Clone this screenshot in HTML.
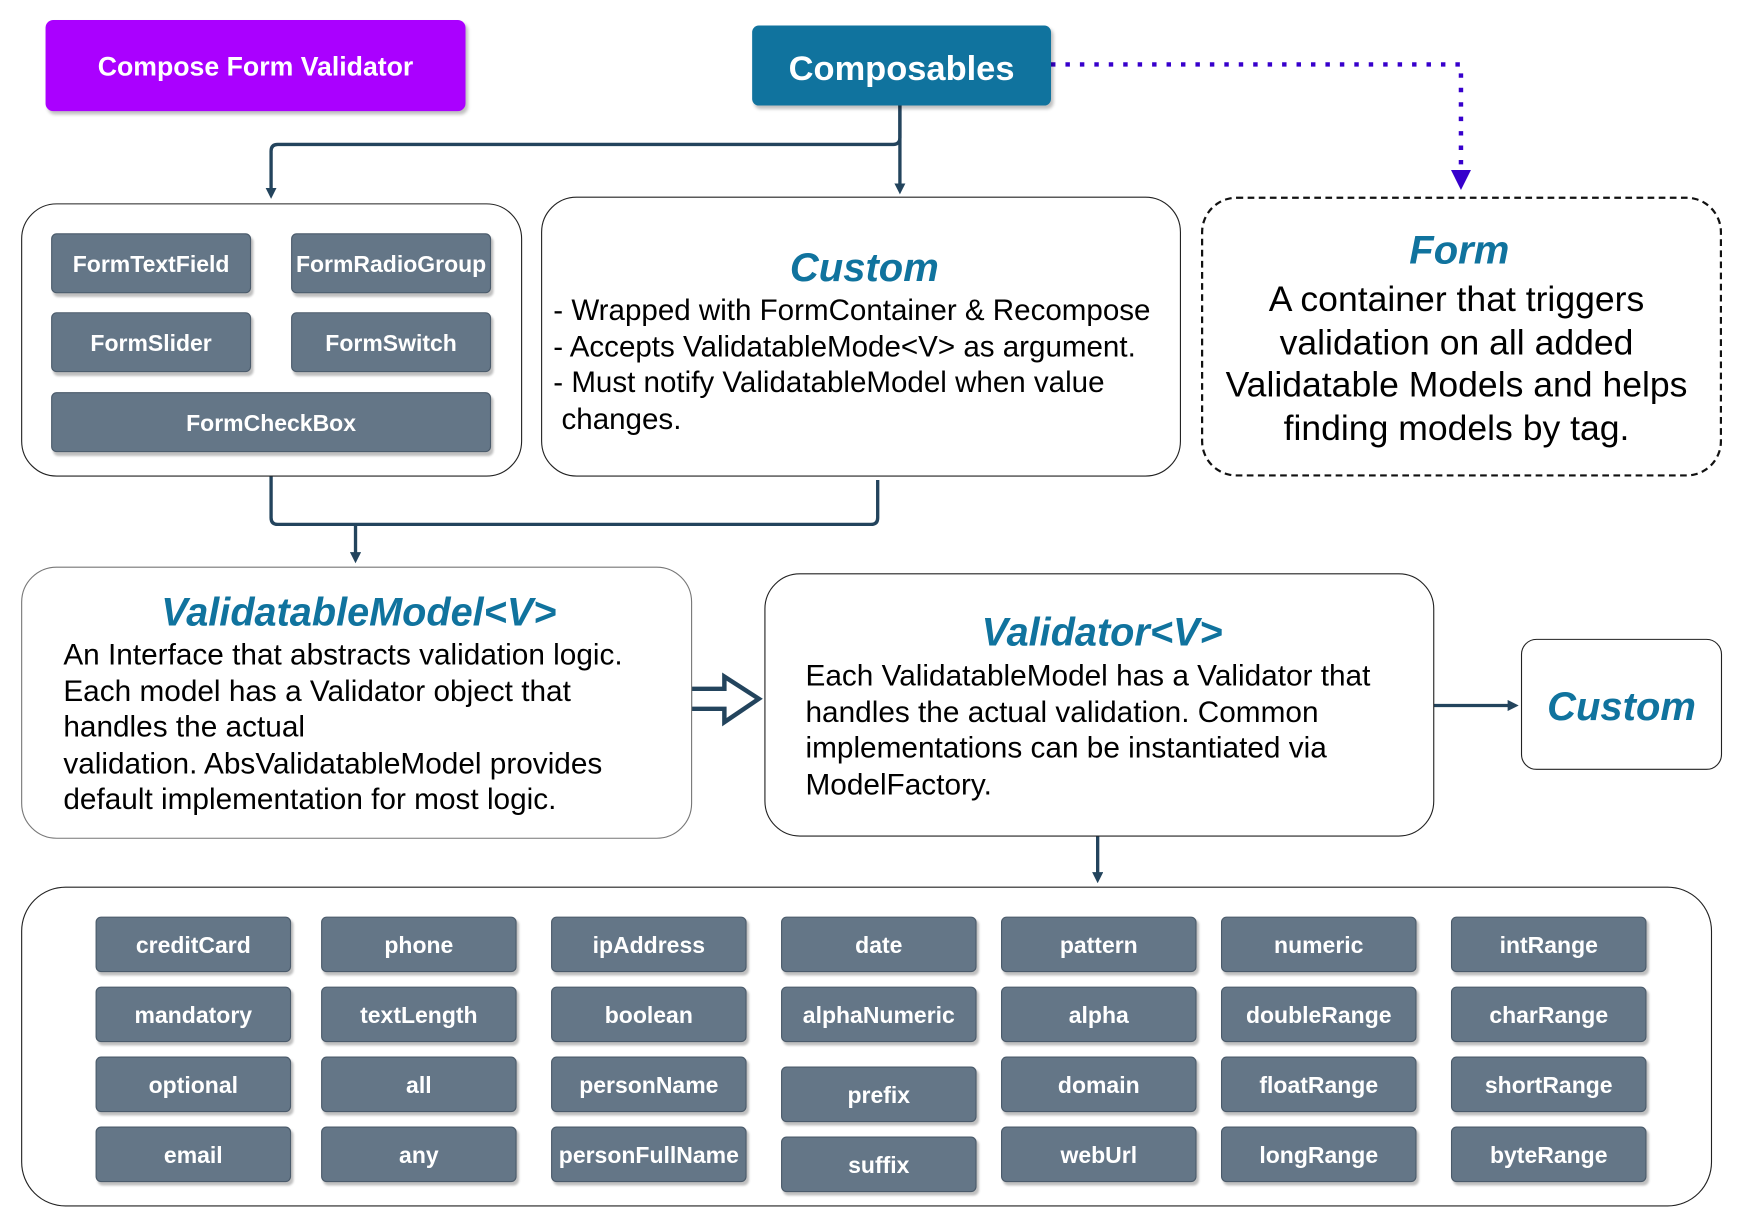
<!DOCTYPE html>
<html><head><meta charset="utf-8"><style>
body{margin:0;width:1742px;height:1226px;overflow:hidden;background:#fff;font-family:"Liberation Sans",Arial,sans-serif}
#w{position:absolute;left:0;top:0;width:1560px;height:1098px;transform:scale(1.111);transform-origin:0 0}
.a{position:absolute;box-sizing:border-box}
.btn{position:absolute;box-sizing:border-box;background:#647687;border:1px solid #4a5a6a;border-radius:5px;color:#fff;font-weight:bold;font-size:20.7px;display:flex;align-items:center;justify-content:center;box-shadow:2px 3px 2px rgba(0,0,0,.25);white-space:nowrap;padding-top:4px}
.box{position:absolute;box-sizing:border-box;border:1.5px solid #222;border-radius:32px;background:#fff}
.t{color:#10739e;font-weight:bold;font-style:italic}
</style></head><body><div id="w">
<svg class="a" style="left:0;top:0" width="1560" height="1098">
<defs><marker id="m" markerWidth="10" markerHeight="10" refX="5" refY="5" orient="auto" markerUnits="userSpaceOnUse"><path d="M0,0 L10,5 L0,10 z" fill="#23445d"/></marker>
<marker id="p" markerWidth="18" markerHeight="18" refX="9" refY="9" orient="auto" markerUnits="userSpaceOnUse"><path d="M0,0 L18,9 L0,18 z" fill="#3700cc"/></marker></defs>
<g stroke="#23445d" stroke-width="3" fill="none">
<path d="M810,95 V124 Q810,130 804,130 H250 Q244,130 244,136 V174" marker-end="url(#m)"/>
<path d="M810,95 V170" marker-end="url(#m)"/>
<path d="M244,428 V466 Q244,472 250,472 H784 Q790,472 790,466 V432"/>
<path d="M320,472 V502" marker-end="url(#m)"/>
<path d="M1290,635 H1362" marker-end="url(#m)"/>
<path d="M988,752 V790" marker-end="url(#m)"/>
<path d="M621,620 H652 V609 L683,629 L652,650 V638 H621 Z" stroke-width="4"/>
</g>
<path d="M946,58 H1315 V162" stroke="#3700cc" stroke-width="4" stroke-dasharray="4,9" fill="none" marker-end="url(#p)"/>
</svg>
<div class="a" style="left:41px;top:18px;width:378px;height:82px;background:#aa00ff;border-radius:7px;box-shadow:2px 3px 3px rgba(0,0,0,.25);color:#fff;font-weight:bold;font-size:24px;display:flex;align-items:center;justify-content:center;padding-top:4px">Compose Form Validator</div>
<div class="a" style="left:677px;top:23px;width:269px;height:72px;background:#10739e;border-radius:6px;box-shadow:2px 3px 3px rgba(0,0,0,.25);color:#fff;font-weight:bold;font-size:31px;display:flex;align-items:center;justify-content:center;padding-top:6px">Composables</div>

<div class="box" style="left:19px;top:183px;width:451px;height:246px"></div>
<div class="btn" style="left:46px;top:210px;width:180px;height:54px">FormTextField</div>
<div class="btn" style="left:262px;top:210px;width:180px;height:54px">FormRadioGroup</div>
<div class="btn" style="left:46px;top:281px;width:180px;height:54px">FormSlider</div>
<div class="btn" style="left:262px;top:281px;width:180px;height:54px">FormSwitch</div>
<div class="btn" style="left:46px;top:353px;width:396px;height:54px">FormCheckBox</div>

<div class="box" style="left:487px;top:177px;width:576px;height:252px"></div>
<div class="a t" style="left:487px;top:220px;width:582px;text-align:center;font-size:36px">Custom</div>
<div class="a" style="left:498px;top:263px;font-size:26.6px;line-height:32.5px;color:#000;white-space:nowrap">- Wrapped with FormContainer &amp; Recompose<br>- Accepts ValidatableMode&lt;V&gt; as argument.<br>- Must notify ValidatableModel when value<br>&nbsp;changes.</div>

<div class="a" style="left:1081px;top:177px;width:469px;height:252px;border:2.5px dashed #111;border-radius:32px"></div>
<div class="a t" style="left:1081px;top:204px;width:465px;text-align:center;font-size:36px">Form</div>
<div class="a" style="left:1071px;top:250px;width:480px;text-align:center;font-size:32px;line-height:38.5px;white-space:nowrap">A container that triggers<br>validation on all added<br>Validatable Models and helps<br>finding models by tag.</div>

<div class="box" style="left:19px;top:510px;width:604px;height:245px;border-color:#777"></div>
<div class="a t" style="left:19px;top:531px;width:608px;text-align:center;font-size:35.7px">ValidatableModel&lt;V&gt;</div>
<div class="a" style="left:57px;top:573px;font-size:26.8px;line-height:32.5px;white-space:nowrap">An Interface that abstracts validation logic.<br>Each model has a Validator object that<br>handles the actual<br>validation. AbsValidatableModel provides<br>default implementation for most logic.</div>

<div class="box" style="left:688px;top:516px;width:603px;height:237px"></div>
<div class="a t" style="left:688px;top:549px;width:608px;text-align:center;font-size:35.7px">Validator&lt;V&gt;</div>
<div class="a" style="left:725px;top:592px;font-size:26.8px;line-height:32.5px;white-space:nowrap">Each ValidatableModel has a Validator that<br>handles the actual validation. Common<br>implementations can be instantiated via<br>ModelFactory.</div>

<div class="a" style="left:1369px;top:575px;width:181px;height:118px;border:1.5px solid #222;border-radius:14px;display:flex;align-items:center;justify-content:center;font-size:36px;padding-top:4px" ><span class="t">Custom</span></div>

<div class="box" style="left:19px;top:798px;width:1522px;height:288px;border-radius:40px"></div>
<div class="btn" style="left:86px;top:825px;width:176px;height:50px">creditCard</div>
<div class="btn" style="left:86px;top:888px;width:176px;height:50px">mandatory</div>
<div class="btn" style="left:86px;top:951px;width:176px;height:50px">optional</div>
<div class="btn" style="left:86px;top:1014px;width:176px;height:50px">email</div>
<div class="btn" style="left:289px;top:825px;width:176px;height:50px">phone</div>
<div class="btn" style="left:289px;top:888px;width:176px;height:50px">textLength</div>
<div class="btn" style="left:289px;top:951px;width:176px;height:50px">all</div>
<div class="btn" style="left:289px;top:1014px;width:176px;height:50px">any</div>
<div class="btn" style="left:496px;top:825px;width:176px;height:50px">ipAddress</div>
<div class="btn" style="left:496px;top:888px;width:176px;height:50px">boolean</div>
<div class="btn" style="left:496px;top:951px;width:176px;height:50px">personName</div>
<div class="btn" style="left:496px;top:1014px;width:176px;height:50px">personFullName</div>
<div class="btn" style="left:703px;top:825px;width:176px;height:50px">date</div>
<div class="btn" style="left:703px;top:888px;width:176px;height:50px">alphaNumeric</div>
<div class="btn" style="left:703px;top:960px;width:176px;height:50px">prefix</div>
<div class="btn" style="left:703px;top:1023px;width:176px;height:50px">suffix</div>
<div class="btn" style="left:901px;top:825px;width:176px;height:50px">pattern</div>
<div class="btn" style="left:901px;top:888px;width:176px;height:50px">alpha</div>
<div class="btn" style="left:901px;top:951px;width:176px;height:50px">domain</div>
<div class="btn" style="left:901px;top:1014px;width:176px;height:50px">webUrl</div>
<div class="btn" style="left:1099px;top:825px;width:176px;height:50px">numeric</div>
<div class="btn" style="left:1099px;top:888px;width:176px;height:50px">doubleRange</div>
<div class="btn" style="left:1099px;top:951px;width:176px;height:50px">floatRange</div>
<div class="btn" style="left:1099px;top:1014px;width:176px;height:50px">longRange</div>
<div class="btn" style="left:1306px;top:825px;width:176px;height:50px">intRange</div>
<div class="btn" style="left:1306px;top:888px;width:176px;height:50px">charRange</div>
<div class="btn" style="left:1306px;top:951px;width:176px;height:50px">shortRange</div>
<div class="btn" style="left:1306px;top:1014px;width:176px;height:50px">byteRange</div>
</div></body></html>
